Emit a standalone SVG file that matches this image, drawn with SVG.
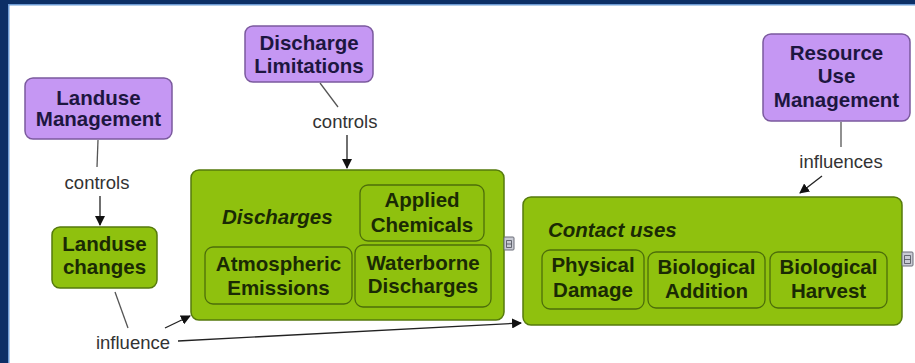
<svg xmlns="http://www.w3.org/2000/svg" width="915" height="363" viewBox="0 0 915 363">
  <defs>
    <marker id="arrow" viewBox="0 0 10 10" refX="9" refY="5" markerWidth="10" markerHeight="10" markerUnits="userSpaceOnUse" orient="auto">
      <path d="M0,0 L10,5 L0,10 z" fill="#111"/>
    </marker>
    <style>
      .purple { fill: #c597f3; stroke: #7b5a9e; stroke-width: 1.5; }
      .green { fill: #8fc10e; stroke: #557a0c; stroke-width: 1.5; }
      .inner { fill: #8fc10e; stroke: #4d6e0a; stroke-width: 1.3; }
      .ptext { font-family: "Liberation Sans", Arial, sans-serif; font-weight: bold; font-size: 20.5px; fill: #1d1640; text-anchor: middle; }
      .gtext { font-family: "Liberation Sans", Arial, sans-serif; font-weight: bold; font-size: 20.5px; fill: #1a2a04; text-anchor: middle; }
      .title { font-family: "Liberation Sans", Arial, sans-serif; font-weight: bold; font-style: italic; font-size: 20.5px; fill: #1a2a04; }
      .label { font-family: "Liberation Sans", Arial, sans-serif; font-size: 18.5px; fill: #333; text-anchor: middle; }
      .link { fill: none; stroke: #555; stroke-width: 1.3; }
      .arr { fill: none; stroke: #222; stroke-width: 1.3; marker-end: url(#arrow); }
      .icon { fill: #c9cbd4; stroke: #6a6d78; stroke-width: 1; }
    </style>
  </defs>

  <!-- page background and frame -->
  <rect x="0" y="0" width="915" height="363" fill="#ffffff"/>
  <rect x="0" y="0" width="915" height="4" fill="#0c2f66"/>
  <rect x="0" y="4" width="915" height="1.5" fill="#6d9bd4"/>
  <rect x="0" y="0" width="8" height="363" fill="#0c2f66"/>
  <rect x="8" y="4" width="1.5" height="359" fill="#6d9bd4"/>

  <!-- connectors -->
  <g id="connectors">
    <line class="link" x1="98" y1="140" x2="97" y2="167"/>
    <line class="arr" x1="100" y1="196" x2="100" y2="225"/>
    <line class="link" x1="320" y1="83" x2="338" y2="107"/>
    <line class="arr" x1="347" y1="135" x2="347" y2="168"/>
    <line class="link" x1="841" y1="122" x2="841" y2="147"/>
    <line class="arr" x1="822" y1="176" x2="800" y2="193"/>
    <line class="link" x1="115" y1="292" x2="128" y2="328"/>
    <line class="arr" x1="165" y1="328" x2="190" y2="316"/>
    <line class="arr" x1="178" y1="341" x2="521" y2="323"/>
    <text class="label" x="97" y="189">controls</text>
    <text class="label" x="345" y="128">controls</text>
    <text class="label" x="841" y="168">influences</text>
    <text class="label" x="133" y="349">influence</text>
  </g>

  <!-- concept nodes -->
  <g id="landuse-management">
    <rect class="purple" x="25" y="78" width="147" height="61" rx="8"/>
    <text class="ptext" x="98.5" y="105">Landuse</text>
    <text class="ptext" x="98.5" y="126">Management</text>
  </g>

  <g id="discharge-limitations">
    <rect class="purple" x="245" y="26" width="128" height="56" rx="8"/>
    <text class="ptext" x="309" y="50">Discharge</text>
    <text class="ptext" x="309" y="73">Limitations</text>
  </g>

  <g id="resource-use-management">
    <rect class="purple" x="763" y="34" width="147" height="87" rx="8"/>
    <text class="ptext" x="836.5" y="60">Resource</text>
    <text class="ptext" x="836.5" y="83">Use</text>
    <text class="ptext" x="836.5" y="107">Management</text>
  </g>

  <g id="landuse-changes">
    <rect class="green" x="52" y="227" width="105" height="61" rx="8"/>
    <text class="gtext" x="104.5" y="251">Landuse</text>
    <text class="gtext" x="104.5" y="274">changes</text>
  </g>

  <g id="discharges">
    <rect class="green" x="191" y="170" width="313" height="150" rx="8"/>
    <text class="title" x="222" y="224">Discharges</text>
    <rect class="icon" x="504" y="237" width="10" height="13" rx="1"/>
    <path d="M506.5,240.5 h5 v7 h-5 z M506.5,244 h5" fill="none" stroke="#4a4d58" stroke-width="0.8"/>
    <g id="applied-chemicals">
      <rect class="inner" x="360" y="185" width="124" height="56" rx="8"/>
      <text class="gtext" x="422" y="207">Applied</text>
      <text class="gtext" x="422" y="232">Chemicals</text>
    </g>
    <g id="atmospheric-emissions">
      <rect class="inner" x="205" y="247" width="147" height="57" rx="8"/>
      <text class="gtext" x="278.5" y="271">Atmospheric</text>
      <text class="gtext" x="278.5" y="295">Emissions</text>
    </g>
    <g id="waterborne-discharges">
      <rect class="inner" x="355" y="245" width="136" height="62" rx="8"/>
      <text class="gtext" x="423" y="270">Waterborne</text>
      <text class="gtext" x="423" y="293">Discharges</text>
    </g>
  </g>

  <g id="contact-uses">
    <rect class="green" x="523" y="197" width="379" height="128" rx="8"/>
    <text class="title" x="548" y="237">Contact uses</text>
    <rect class="icon" x="902" y="252" width="11" height="14" rx="1"/>
    <path d="M904.5,255.5 h6 v8 h-6 z M904.5,259.5 h6" fill="none" stroke="#4a4d58" stroke-width="0.8"/>
    <g id="physical-damage">
      <rect class="inner" x="542" y="250" width="102" height="59" rx="8"/>
      <text class="gtext" x="593" y="272">Physical</text>
      <text class="gtext" x="593" y="297">Damage</text>
    </g>
    <g id="biological-addition">
      <rect class="inner" x="648" y="252" width="117" height="56" rx="8"/>
      <text class="gtext" x="706.5" y="274">Biological</text>
      <text class="gtext" x="706.5" y="298">Addition</text>
    </g>
    <g id="biological-harvest">
      <rect class="inner" x="770" y="252" width="117" height="56" rx="8"/>
      <text class="gtext" x="828.5" y="274">Biological</text>
      <text class="gtext" x="828.5" y="298">Harvest</text>
    </g>
  </g>
</svg>
